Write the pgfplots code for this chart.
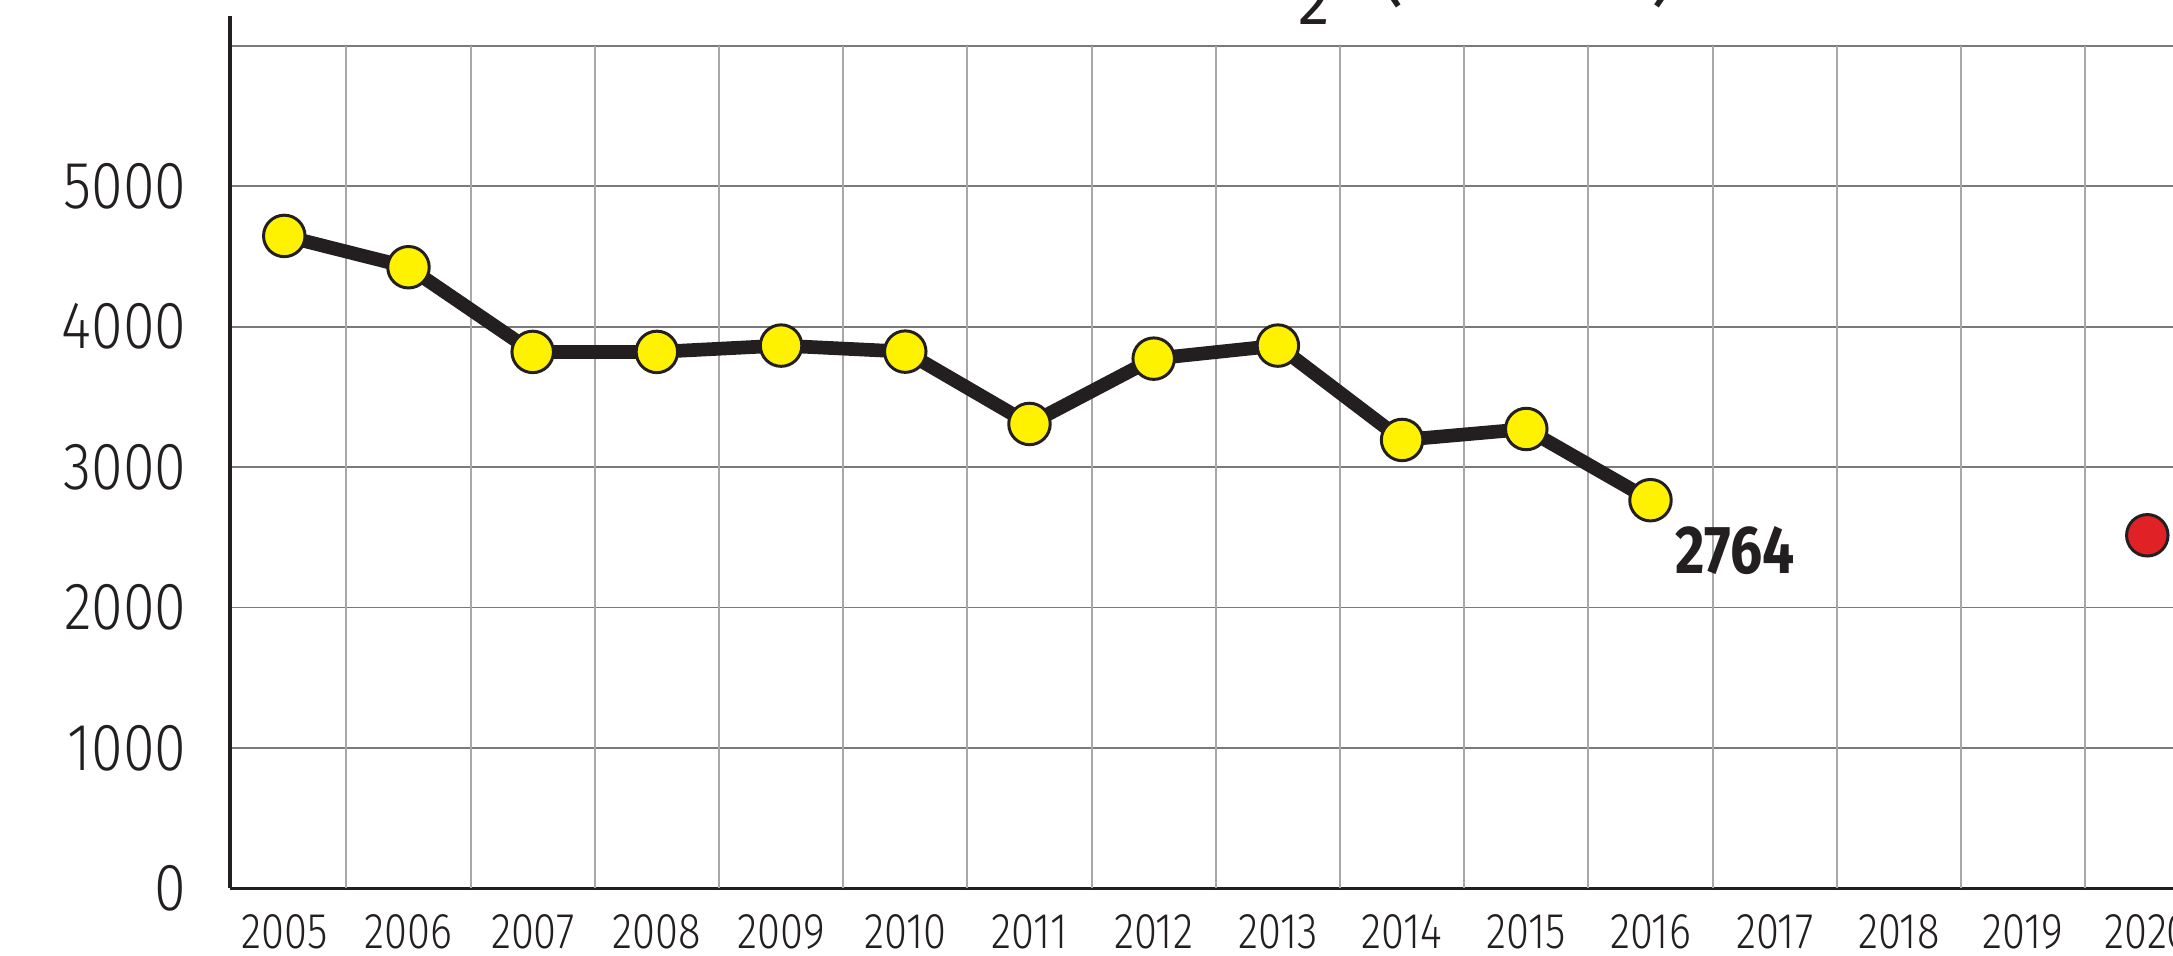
\documentclass[border=0pt]{standalone}
\usepackage{fontspec}
\usepackage{pgfplots}
\pgfplotsset{compat=1.18}
\setmainfont{Fira Sans}
\newfontfamily\lightc{Fira Sans Light}[FakeStretch=0.83]
\newfontfamily\thinc{Fira Sans Light}[FakeStretch=0.86]
\newfontfamily\boldc{Fira Sans}[FakeStretch=0.84]
\definecolor{ink}{HTML}{231F20}
\definecolor{dotyellow}{HTML}{FFF200}
\definecolor{dotred}{HTML}{E02226}
\definecolor{hgrid}{HTML}{7A7A7A}
\definecolor{vgrid}{HTML}{A8A8A8}
\begin{document}
\begin{tikzpicture}[x=1cm,y=1cm]
\begin{axis}[
  at={(2.30cm,0.667cm)}, anchor=south west,
  scale only axis, width=19.43cm, height=8.72cm,
  xmin=-0.437, xmax=15.207, ymin=0, ymax=6210,
  axis lines*=left,
  axis line style={ink, line width=1pt},
  xtick={0,1,...,15},
  xticklabels={2005,2006,2007,2008,2009,2010,2011,2012,2013,2014,2015,2016,2017,2018,2019,2020},
  ytick={0,1000,...,6000},
  yticklabels={0,1000,2000,3000,4000,5000,{}},
  major tick length=0pt,
  ymajorgrids, major grid style={hgrid, line width=0.5pt},
  xticklabel style={font=\lightc\fontsize{14.3}{16}\selectfont, text=ink, anchor=north, inner sep=0pt, yshift=-7.2pt},
  yticklabel style={font=\thinc\fontsize{19}{20}\selectfont, text=ink, anchor=east, inner sep=0pt, xshift=-12.2pt},
]
\pgfplotsinvokeforeach{0.5,1.5,...,14.5}{\draw[vgrid, line width=0.55pt] (axis cs:#1,0) -- (axis cs:#1,6000);}
\addplot[ink, line width=3.9pt, mark=*, mark size=5.9pt,
  mark options={fill=dotyellow, draw=ink, line width=0.85pt}]
  coordinates {(0,4646) (1,4423) (2,3820) (3,3820) (4,3865) (5,3822) (6,3307) (7,3772) (8,3865) (9,3193) (10,3271) (11,2764)};
\addplot[only marks, mark=*, mark size=5.9pt,
  mark options={fill=dotred, draw=ink, line width=0.85pt}]
  coordinates {(15,2514)};
\node[font=\boldc\bfseries\fontsize{19.3}{20}\selectfont, text=ink, inner sep=0pt] at (axis cs:11.68,2402) {2764};
\end{axis}
\node[anchor=base east, inner sep=0pt, font=\fontsize{26}{28}\selectfont, text=ink] at (12.96,9.59) {Emissions of CO};
\node[anchor=base west, inner sep=0pt, font=\fontsize{18}{20}\selectfont, text=ink] at (12.98,9.59) {\raisebox{-0.457em}{2}};
\node[anchor=base west, inner sep=0pt, font=\fontsize{22.6}{24}\selectfont, text=ink] at (13.78,9.58) {(tonnes)};
\pgfresetboundingbox
\useasboundingbox (0,0) rectangle (21.73,9.55);
\end{tikzpicture}
\end{document}
